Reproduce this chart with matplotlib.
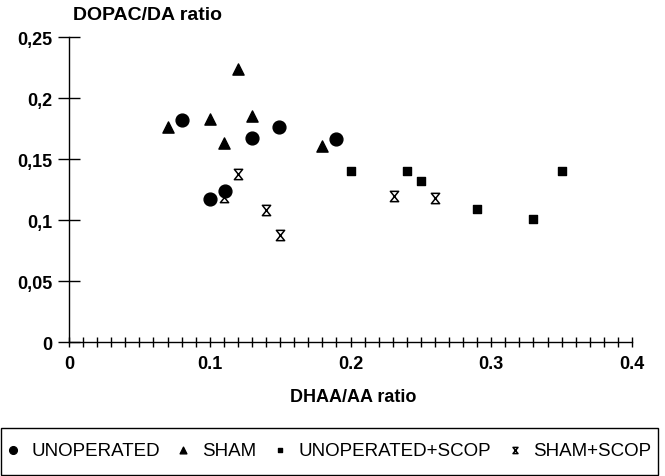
import matplotlib
matplotlib.use('Agg')
import matplotlib.pyplot as plt
from matplotlib.path import Path
from matplotlib.patches import Rectangle
from matplotlib.ticker import MultipleLocator

plt.rcParams['font.family'] = ['Liberation Sans', 'DejaVu Sans']

# DHAA/AA ratio (x) vs DOPAC/DA ratio (y)
unop_x = [0.08, 0.10, 0.111, 0.13, 0.149, 0.19]
unop_y = [0.182, 0.117, 0.124, 0.167, 0.176, 0.166]

sham_x = [0.07, 0.10, 0.11, 0.12, 0.13, 0.18]
sham_y = [0.176, 0.183, 0.163, 0.224, 0.185, 0.161]

unop_scop_x = [0.20, 0.24, 0.25, 0.29, 0.33, 0.35]
unop_scop_y = [0.140, 0.140, 0.132, 0.109, 0.101, 0.140]

sham_scop_x = [0.11, 0.12, 0.14, 0.15, 0.231, 0.26]
sham_scop_y = [0.119, 0.138, 0.108, 0.088, 0.120, 0.118]

y_ticks = [0, 0.05, 0.1, 0.15, 0.2, 0.25]
y_tick_labels = ['0', '0,05', '0,1', '0,15', '0,2', '0,25']
x_ticks = [0, 0.1, 0.2, 0.3, 0.4]
x_tick_labels = ['0', '0.1', '0.2', '0.3', '0.4']

# hourglass marker: two triangles tip to tip
hourglass = Path([(-0.8, 1), (0.8, 1), (-0.8, -1), (0.8, -1), (-0.8, 1)],
                 [Path.MOVETO, Path.LINETO, Path.LINETO, Path.LINETO, Path.CLOSEPOLY])

fig = plt.figure(figsize=(6.65, 4.77), dpi=100)
ax = fig.add_axes([0.1038, 0.2809, 0.8466, 0.6394])

ax.scatter(unop_x, unop_y, marker='o', s=85, color='black', label='UNOPERATED', zorder=3)
ax.scatter(sham_x, sham_y, marker='^', s=65, color='black', label='SHAM', zorder=3)
ax.scatter(unop_scop_x, unop_scop_y, marker='s', s=33, color='black', label='UNOPERATED+SCOP', zorder=3)
ax.scatter(sham_scop_x, sham_scop_y, marker=hourglass, s=55, facecolor='white',
           edgecolor='black', linewidths=1.1, label='SHAM+SCOP', zorder=2)

ax.set_xlim(0, 0.4)
ax.set_ylim(0, 0.25)
ax.spines['top'].set_visible(False)
ax.spines['right'].set_visible(False)
ax.spines['left'].set_linewidth(1.0)
ax.spines['bottom'].set_linewidth(1.0)

ax.set_yticks(y_ticks)
ax.set_yticklabels(y_tick_labels, fontsize=13, fontweight='bold')
ax.set_xticks(x_ticks)
ax.set_xticklabels(x_tick_labels, fontsize=13, fontweight='bold')
ax.xaxis.set_minor_locator(MultipleLocator(0.01))
ax.tick_params(axis='y', direction='inout', length=16, width=1.0, pad=4)
ax.tick_params(axis='x', which='major', direction='inout', length=7, width=1.0, pad=6)
ax.tick_params(axis='x', which='minor', direction='inout', length=7, width=1.0)

fig.text(0.110, 0.968, 'DOPAC/DA ratio', fontsize=14, fontweight='bold', ha='left', va='center')
fig.text(0.531, 0.166, 'DHAA/AA ratio', fontsize=13, fontweight='bold', ha='center', va='center')

# legend box spanning the bottom of the figure
fig.patches.append(Rectangle((0.0015, 0.003), 0.988, 0.0985, transform=fig.transFigure,
                             fill=False, edgecolor='black', linewidth=1.0))
fig.legend(loc='center', bbox_to_anchor=(0.495, 0.054), ncol=4, fontsize=13.5,
           frameon=False, handletextpad=0.7, columnspacing=0.95, handlelength=0.6,
           markerscale=0.6, borderaxespad=0, borderpad=0)

fig.savefig('out.png', dpi=100)
